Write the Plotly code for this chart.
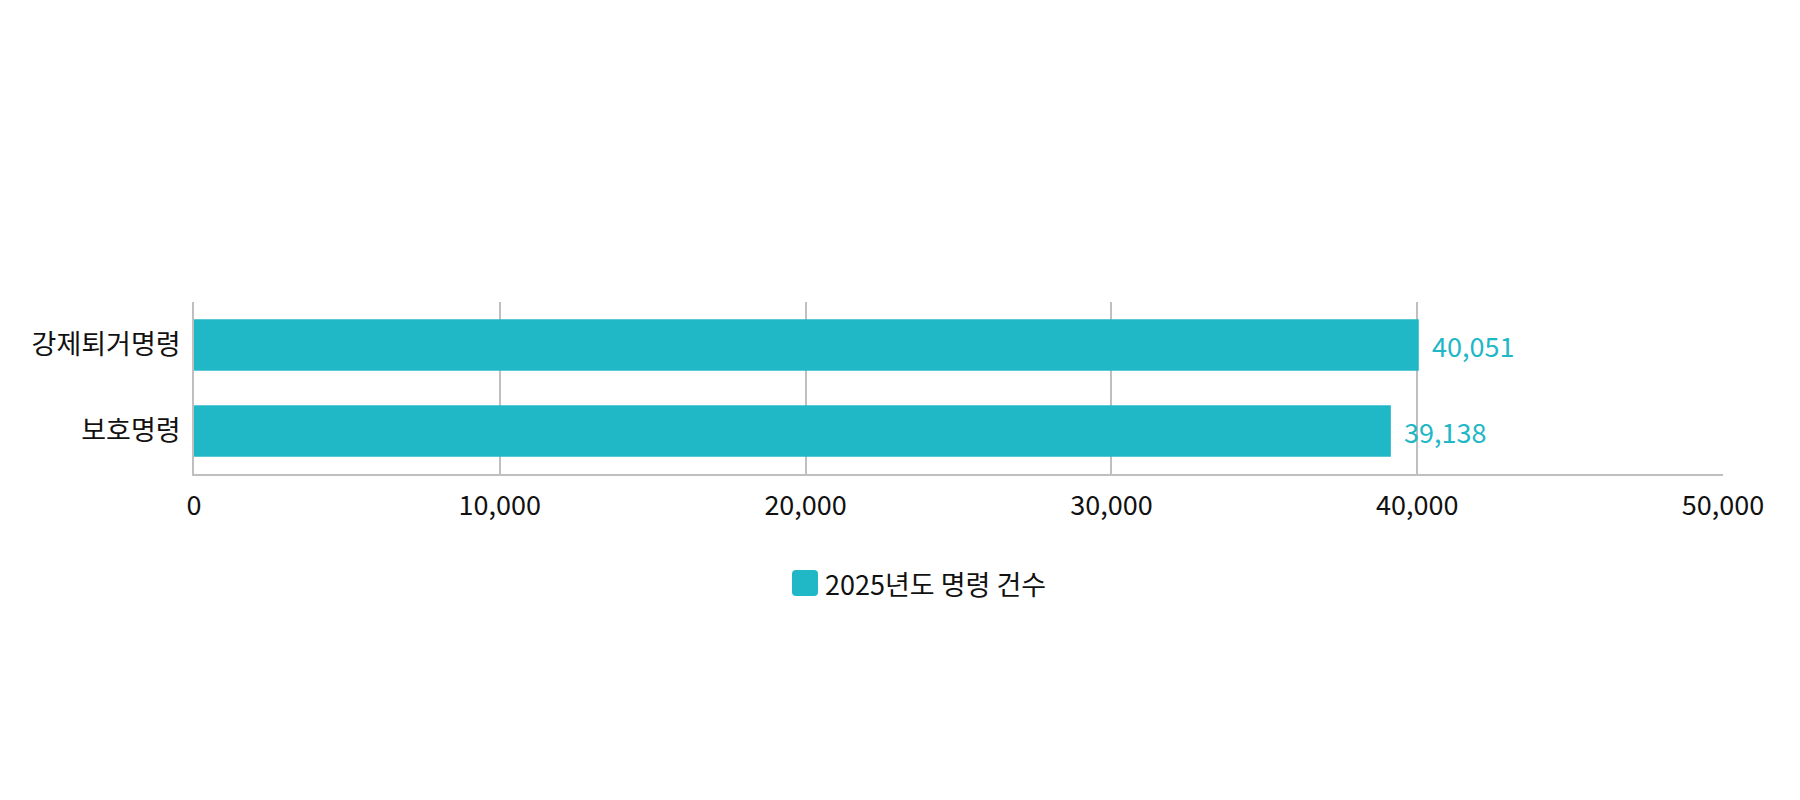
import plotly.graph_objects as go

categories = ["보호명령", "강제퇴거명령"]
values = [39138, 40051]
series_name = "2025년도 명령 건수"
tick_vals = [0, 10000, 20000, 30000, 40000, 50000]
tick_text = ["0", "10,000", "20,000", "30,000", "40,000", "50,000"]

TEAL = "#20B7C7"
FONT = "Noto Sans CJK KR"
FS = 27

# plot area (absolute px): x 194..1723, y 302..474 ; page has 8px body margin
PL, PR, PT, PB = 194, 1723, 302, 474

fig = go.Figure()
fig.add_trace(go.Bar(
    y=categories, x=values, orientation="h", name=series_name,
    marker=dict(color=TEAL, line=dict(width=0)), width=0.6,
    showlegend=False, hoverinfo="x+y",
))

for c, v in zip(categories, values):
    fig.add_annotation(x=v, y=c, xref="x", yref="y", text=f"{v:,}",
                       showarrow=False, xanchor="left", yanchor="middle",
                       xshift=11, font=dict(family=FONT, size=FS, color=TEAL))

# custom legend
leg_x = (792 - PL) / (PR - PL)
leg_y = (PB - 583) / (PB - PT)
fig.add_shape(type="path", xref="paper", yref="paper", xsizemode="pixel", ysizemode="pixel",
              xanchor=leg_x, yanchor=leg_y,
              path="M 4,13 L 22,13 Q 26,13 26,9 L 26,-9 Q 26,-13 22,-13 L 4,-13 Q 0,-13 0,-9 L 0,9 Q 0,13 4,13 Z",
              fillcolor=TEAL, line=dict(width=0))
fig.add_annotation(xref="paper", yref="paper", x=(823 - PL) / (PR - PL),
                   y=leg_y, text=series_name, showarrow=False,
                   xanchor="left", yanchor="middle",
                   font=dict(family=FONT, size=FS, color="#111111"))

fig.update_layout(
    width=1800, height=800,
    margin=dict(l=PL - 8, r=1800 + 8 - PR, t=PT - 8, b=800 + 8 - PB),
    paper_bgcolor="white", plot_bgcolor="white",
    font=dict(family=FONT, size=FS, color="#111111"),
    bargap=0.4,
)
fig.update_xaxes(range=[0, 50000], tickvals=tick_vals, ticktext=tick_text,
                 showgrid=True, gridcolor="#BFBFBF", gridwidth=1.5,
                 showline=True, linecolor="#BFBFBF", linewidth=2,
                 zeroline=False, ticks="outside", ticklen=7, tickcolor="rgba(0,0,0,0)",
                 tickfont=dict(family=FONT, size=FS, color="#111111"), fixedrange=True,
                 automargin=False)
fig.update_yaxes(showgrid=False, showline=True, linecolor="#BFBFBF", linewidth=2,
                 ticks="outside", ticklen=6, tickcolor="rgba(0,0,0,0)",
                 tickfont=dict(family=FONT, size=FS, color="#111111"), fixedrange=True,
                 automargin=False)

fig.write_html("out.html")
